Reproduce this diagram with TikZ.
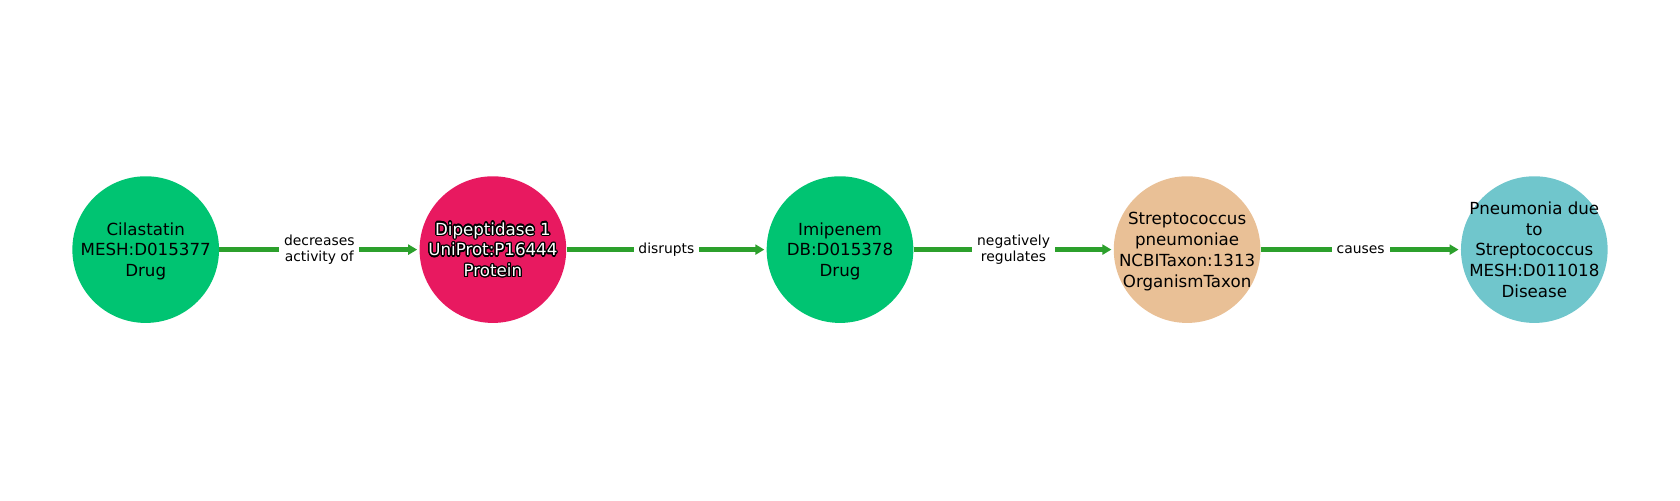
\documentclass[tikz,border=0pt]{standalone}
\usepackage{fontspec}
\setmainfont{DejaVu Sans}
\usepackage[copies]{contour}
\usetikzlibrary{arrows.meta}

\definecolor{drugcol}{RGB}{0,196,114}
\definecolor{proteincol}{RGB}{232,25,96}
\definecolor{taxoncol}{RGB}{233,192,150}
\definecolor{diseasecol}{RGB}{112,198,204}
\definecolor{edgegreen}{RGB}{44,160,44}
\contourlength{0.9pt}
\newcommand{\outlined}[1]{\textcolor{white}{\contour{black}{#1}}}
% keep the circles at a fixed size, whatever the text
\newcommand{\entitytext}[1]{\makebox[0pt]{\raisebox{-4.5pt}[0pt][0pt]{%
  \begin{tabular}{@{}c@{}}#1\end{tabular}}}}

\tikzset{
  entity/.style={circle, minimum size=105.6pt, inner sep=0pt,
    font=\fontsize{12}{15}\selectfont},
  relation/.style={draw=edgegreen, line width=3.2pt, shorten >=1.5pt,
    -{Triangle[length=6.5pt,width=7.2pt]}},
  rellabel/.style={fill=white, inner xsep=3.5pt, inner ysep=2pt, align=center,
    font=\fontsize{10}{12}\selectfont}
}

\begin{document}
\begin{tikzpicture}[x=0.72pt, y=0.72pt]
    \useasboundingbox (0,0) rectangle (1680,500);
    % entities
    \node[entity, fill=drugcol] (cil) at (145.7,250.4)
      {\entitytext{Cilastatin\\MESH:D015377\\Drug}};
    \node[entity, fill=proteincol] (dip) at (492.9,250.4)
      {\entitytext{\outlined{Dipeptidase 1}\\\outlined{UniProt:P16444}\\\outlined{Protein}}};
    \node[entity, fill=drugcol] (imi) at (840,250.4)
      {\entitytext{Imipenem\\DB:D015378\\Drug}};
    \node[entity, fill=taxoncol] (strep) at (1187.1,250.4)
      {\entitytext{Streptococcus\\pneumoniae\\NCBITaxon:1313\\OrganismTaxon}};
    \node[entity, fill=diseasecol] (pneu) at (1534.3,250.4)
      {\entitytext{Pneumonia due\\to\\Streptococcus\\MESH:D011018\\Disease}};
    % relations
    \draw[relation] (cil) -- node[rellabel] {decreases\\activity of} (dip);
    \draw[relation] (dip) -- node[rellabel] {disrupts} (imi);
    \draw[relation] (imi) -- node[rellabel] {negatively\\regulates} (strep);
    \draw[relation] (strep) -- node[rellabel] {causes} (pneu);
\end{tikzpicture}
\end{document}
